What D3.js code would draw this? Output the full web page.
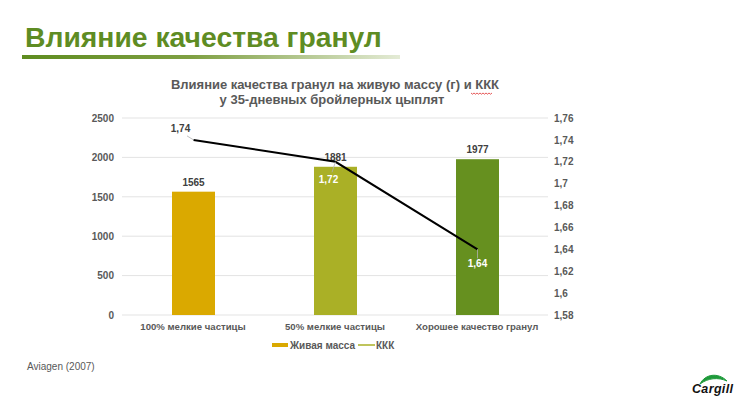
<!DOCTYPE html>
<html>
<head>
<meta charset="utf-8">
<script src="https://cdn.jsdelivr.net/npm/d3@7"></script>
<style>
  body { margin: 0; background: #fff; }
  text { font-family: "Liberation Sans", Arial, sans-serif; }
</style>
</head>
<body>
<div id="chart"></div>
<script>
// data
var categories = ["100% мелкие частицы", "50% мелкие частицы", "Хорошее качество гранул"];
var liveWeight = [1565, 1881, 1977];
var fcr = [1.74, 1.72, 1.64];
var fcrLabels = ["1,74", "1,72", "1,64"];
var barColors = ["#DAA900", "#AAB026", "#66901F"];
var leftTicks = [0, 500, 1000, 1500, 2000, 2500];
var rightTicks = [1.58, 1.6, 1.62, 1.64, 1.66, 1.68, 1.7, 1.72, 1.74, 1.76];

var W = 740, H = 406;
var plot = {left: 122, right: 548, top: 118, bottom: 315};

var svg = d3.select("#chart").append("svg")
  .attr("width", W).attr("height", H);

//slide title and gradient underline
var defs = svg.append("defs");
var grad = defs.append("linearGradient").attr("id", "ul");
grad.append("stop").attr("offset", "0%").attr("stop-color", "#5E8C1F");
grad.append("stop").attr("offset", "45%").attr("stop-color", "#7FA043");
grad.append("stop").attr("offset", "100%").attr("stop-color", "#E4EBD6");

svg.append("text")
  .attr("x", 25).attr("y", 47)
  .attr("font-size", 28.3).attr("font-weight", "bold")
  .attr("fill", "#5E8C23")
  .text("Влияние качества гранул");

svg.append("rect")
  .attr("x", 22).attr("y", 55).attr("width", 378).attr("height", 4)
  .attr("fill", "url(#ul)");

//chart title
var title = svg.append("g").attr("fill", "#595959")
  .attr("font-size", 13).attr("font-weight", "bold")
  .attr("text-anchor", "middle");
title.append("text").attr("x", 335).attr("y", 89)
  .text("Влияние качества гранул на живую массу (г) и ККК");
title.append("text").attr("x", 332).attr("y", 104)
  .text("у 35-дневных бройлерных цыплят");

// red spellcheck squiggle under ККК
var sq = d3.range(0, 22, 1.5).map(function(d, i) { return [471 + d, 93 + (i % 2 ? 1.2 : 0)]; });
svg.append("path").attr("d", d3.line()(sq))
  .attr("fill", "none").attr("stroke", "#E03030").attr("stroke-width", 0.8);

//scales
var x = d3.scaleBand().domain(categories)
  .range([plot.left, plot.right]).paddingInner(0).paddingOuter(0);
var yL = d3.scaleLinear().domain([0, 2500]).range([plot.bottom, plot.top]);
var yR = d3.scaleLinear().domain([1.58, 1.76]).range([plot.bottom, plot.top]);

//gridlines
svg.append("g").selectAll("line").data(leftTicks).enter().append("line")
  .attr("x1", plot.left).attr("x2", plot.right)
  .attr("y1", function(d) { return yL(d); }).attr("y2", function(d) { return yL(d); })
  .attr("stroke", "#E3E3E3").attr("stroke-width", 1);

//left axis
var axL = svg.append("g")
  .attr("transform", "translate(" + (plot.left - 8) + ",0)")
  .call(d3.axisLeft(yL).tickValues(leftTicks).tickSize(0).tickPadding(0).tickFormat(d3.format("d")));
axL.select(".domain").remove();
axL.selectAll("text").attr("font-size", 10).attr("font-weight", "bold")
  .attr("fill", "#595959").style("font-family", "Liberation Sans, Arial, sans-serif");

//right axis
var axR = svg.append("g")
  .attr("transform", "translate(" + (plot.right + 6) + ",0)")
  .call(d3.axisRight(yR).tickValues(rightTicks).tickSize(0).tickPadding(0)
    .tickFormat(function(d) { return String(+d.toFixed(2)).replace(".", ","); }));
axR.select(".domain").remove();
axR.selectAll("text").attr("font-size", 10).attr("font-weight", "bold")
  .attr("fill", "#595959").style("font-family", "Liberation Sans, Arial, sans-serif");

//bars
var bw = 43;
svg.append("g").selectAll("rect").data(liveWeight).enter().append("rect")
  .attr("x", function(d, i) { return x(categories[i]) + x.bandwidth() / 2 - bw / 2 + 0.5; })
  .attr("y", function(d) { return yL(d); })
  .attr("width", bw)
  .attr("height", function(d) { return plot.bottom - yL(d); })
  .attr("fill", function(d, i) { return barColors[i]; });

//bar labels
svg.append("g").selectAll("text").data(liveWeight).enter().append("text")
  .attr("x", function(d, i) { return x(categories[i]) + x.bandwidth() / 2 + 0.5; })
  .attr("y", function(d) { return yL(d) - 6; })
  .attr("text-anchor", "middle").attr("font-size", 10).attr("font-weight", "bold")
  .attr("fill", "#404040")
  .text(function(d) { return d; });

//category labels
svg.append("g").selectAll("text").data(categories).enter().append("text")
  .attr("x", function(d) { return x(d) + x.bandwidth() / 2; })
  .attr("y", 330)
  .attr("text-anchor", "middle").attr("font-size", 9.6).attr("font-weight", "bold")
  .attr("fill", "#595959")
  .text(function(d) { return d; });

//FCR line
var pts = fcr.map(function(d, i) { return [x(categories[i]) + x.bandwidth() / 2 + 0.5, yR(d)]; });
svg.append("path").attr("d", d3.line()(pts))
  .attr("fill", "none").attr("stroke", "#000").attr("stroke-width", 2);

//FCR labels with leader lines
var lblOff = [[-13, -8], [-7, 21], [0, 18]];
var lblCol = ["#404040", "#fff", "#fff"];
svg.append("g").selectAll("line").data(pts).enter().append("line")
  .attr("x1", function(d) { return d[0]; }).attr("y1", function(d) { return d[1]; })
  .attr("x2", function(d, i) { return d[0] + lblOff[i][0] * 0.5; })
  .attr("y2", function(d, i) { return d[1] + lblOff[i][1] * 0.5; })
  .attr("stroke", "#B0B0B0").attr("stroke-width", 0.8);
svg.append("g").selectAll("text").data(pts).enter().append("text")
  .attr("x", function(d, i) { return d[0] + lblOff[i][0]; })
  .attr("y", function(d, i) { return d[1] + lblOff[i][1]; })
  .attr("text-anchor", "middle").attr("font-size", 10).attr("font-weight", "bold")
  .attr("fill", function(d, i) { return lblCol[i]; })
  .text(function(d, i) { return fcrLabels[i]; });

//legend
var lg = svg.append("g").attr("font-size", 10).attr("font-weight", "bold").attr("fill", "#595959");
lg.append("rect").attr("x", 272).attr("y", 343).attr("width", 16).attr("height", 4).attr("fill", barColors[0]);
lg.append("text").attr("x", 290).attr("y", 349).text("Живая масса");
lg.append("line").attr("x1", 358).attr("x2", 375).attr("y1", 345).attr("y2", 345)
  .attr("stroke", "#AAB026").attr("stroke-width", 1.5);
lg.append("text").attr("x", 376).attr("y", 349).text("ККК");

//source
svg.append("text").attr("x", 27).attr("y", 370)
  .attr("font-size", 10).attr("fill", "#595959")
  .text("Aviagen (2007)");

//Cargill logo
svg.append("path")
  .attr("d", "M700,384 C705,374 718,372 727,381 C718,377 708,378 700,384 Z")
  .attr("fill", "#1E9A3A").attr("stroke", "#1E9A3A").attr("stroke-width", 1);
svg.append("text").attr("x", 692).attr("y", 393)
  .attr("font-size", 12.5).attr("font-weight", "bold").attr("font-style", "italic")
  .attr("fill", "#111").attr("textLength", 41)
  .text("Cargill");
</script>
</body>
</html>
